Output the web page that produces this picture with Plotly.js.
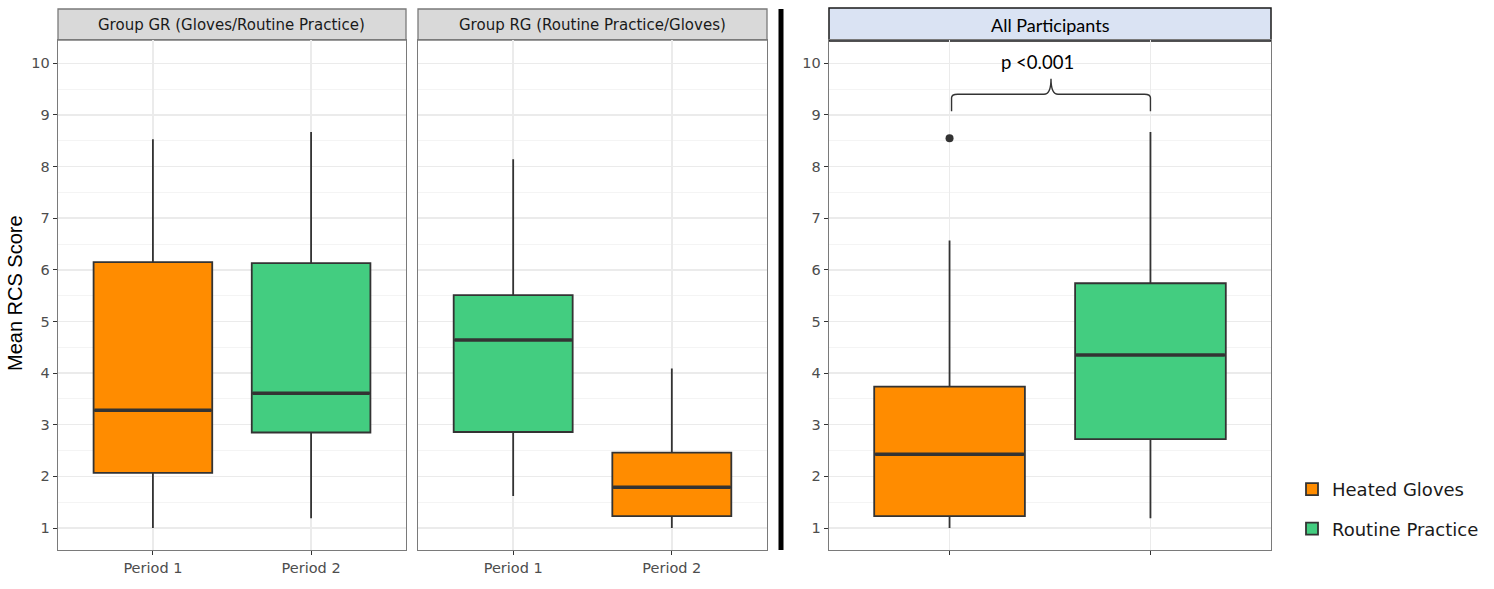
<!DOCTYPE html>
<html><head><meta charset="utf-8">
<script src="https://cdn.plot.ly/plotly-3.0.1.min.js"></script>
<style>html,body{margin:0;padding:0;background:#fff;}#chart{width:1494px;height:589px;}</style>
</head><body><div id="chart"></div>
<script>
// ---- Data ----
const periods = ['Period 1', 'Period 2'];
const overallCats = ['Heated Gloves', 'Routine Practice'];
const seriesNames = ['Heated Gloves', 'Routine Practice'];

// Group GR: Period 1 = Gloves, Period 2 = Routine
const grGloves  = {low: 1.00, q1: 2.07, med: 3.28, q3: 6.15, high: 8.53};
const grRoutine = {low: 1.19, q1: 2.85, med: 3.61, q3: 6.13, high: 8.67};
// Group RG: Period 1 = Routine, Period 2 = Gloves
const rgRoutine = {low: 1.62, q1: 2.86, med: 4.64, q3: 5.51, high: 8.14};
const rgGloves  = {low: 1.00, q1: 1.23, med: 1.79, q3: 2.46, high: 4.09};
// All participants
const allGloves  = {low: 1.00, q1: 1.23, med: 2.43, q3: 3.74, high: 6.57};
const allRoutine = {low: 1.19, q1: 2.72, med: 4.35, q3: 5.74, high: 8.67};
const allGlovesOutliers = [8.55];

const yTicks = [1,2,3,4,5,6,7,8,9,10];
const pLabel = 'p <0.001';

const orange = '#FF8C00', green = '#43CD80', edge = '#333333';
const BOXW = 0.75;
const SANS = 'DejaVu Sans, sans-serif';

function boxTrace(stats, pos, color, xa, ya, name, show) {
  return {
    type: 'box', x: [pos], q1: [stats.q1], median: [stats.med], q3: [stats.q3],
    lowerfence: [stats.low], upperfence: [stats.high],
    xaxis: xa, yaxis: ya, name: name, legendgroup: name, showlegend: show,
    fillcolor: color, line: {color: edge, width: 1.8}, whiskerwidth: 0,
    width: BOXW, boxpoints: false, hoverinfo: 'skip'
  };
}
// thicker median bar (ggplot "fatten") drawn on top through the same axes
function medianTrace(stats, pos, xa, ya) {
  return {
    type: 'scatter', mode: 'lines', x: [pos - BOXW/2 + 0.005, pos + BOXW/2 - 0.005], y: [stats.med, stats.med],
    xaxis: xa, yaxis: ya, line: {color: edge, width: 3.6}, showlegend: false, hoverinfo: 'skip'
  };
}

const traces = [
  boxTrace(grGloves,  0, orange, 'x',  'y',  seriesNames[0], false),
  boxTrace(grRoutine, 1, green,  'x',  'y',  seriesNames[1], false),
  boxTrace(rgRoutine, 0, green,  'x2', 'y2', seriesNames[1], false),
  boxTrace(rgGloves,  1, orange, 'x2', 'y2', seriesNames[0], false),
  boxTrace(allGloves,  0, orange, 'x3', 'y3', seriesNames[0], true),
  boxTrace(allRoutine, 1, green,  'x3', 'y3', seriesNames[1], true),
  medianTrace(grGloves, 0, 'x', 'y'), medianTrace(grRoutine, 1, 'x', 'y'),
  medianTrace(rgRoutine, 0, 'x2', 'y2'), medianTrace(rgGloves, 1, 'x2', 'y2'),
  medianTrace(allGloves, 0, 'x3', 'y3'), medianTrace(allRoutine, 1, 'x3', 'y3'),
  {type: 'scatter', mode: 'markers', x: allGlovesOutliers.map(() => 0), y: allGlovesOutliers,
   xaxis: 'x3', yaxis: 'y3', marker: {color: edge, size: 8}, showlegend: false, hoverinfo: 'skip'}
];

const W = 1494, H = 589;
const px = v => v / W, py = v => 1 - v / H;
const yDom = [py(550), py(40)];
const yRange = [0.575, 10.45];

const tickFont = {family: SANS, size: 14.5, color: '#4d4d4d'};
function yAxis(showLabels, anchor) {
  return {
    domain: yDom, range: yRange, anchor: anchor, tickvals: yTicks,
    showticklabels: showLabels, ticks: showLabels ? 'outside' : '', ticklen: 4, tickcolor: '#333',
    tickfont: tickFont, showgrid: true, gridcolor: '#ebebeb', gridwidth: 1.4,
    minor: {dtick: 0.5, tick0: 0.5, showgrid: true, gridcolor: '#f4f4f4', gridwidth: 1},
    zeroline: false, showline: true, mirror: true, linecolor: '#7a7a7a', linewidth: 1.3, fixedrange: true
  };
}
function xAxis(dom, anchor, showLabels, labels) {
  return {
    domain: dom, anchor: anchor, type: 'linear', tickvals: [0, 1], ticktext: labels,
    range: [-0.6, 1.6], showticklabels: showLabels, ticks: 'outside', ticklen: 4, tickcolor: '#333',
    tickfont: tickFont, showgrid: true, gridcolor: '#ebebeb', gridwidth: 1.4,
    zeroline: false, showline: true, mirror: true, linecolor: '#7a7a7a', linewidth: 1.3, fixedrange: true
  };
}

const d1 = [px(58), px(406)], d2 = [px(418), px(767)], d3 = [px(829), px(1271)];
const stripY = [py(40), py(9)];

const shapes = [
  {type: 'rect', xref: 'paper', yref: 'paper', x0: d1[0], x1: d1[1], y0: stripY[0], y1: stripY[1],
   fillcolor: '#d9d9d9', line: {color: '#7a7a7a', width: 1.3}, layer: 'below'},
  {type: 'rect', xref: 'paper', yref: 'paper', x0: d2[0], x1: d2[1], y0: stripY[0], y1: stripY[1],
   fillcolor: '#d9d9d9', line: {color: '#7a7a7a', width: 1.3}, layer: 'below'},
  {type: 'rect', xref: 'paper', yref: 'paper', x0: d3[0], x1: d3[1], y0: py(41), y1: py(8),
   fillcolor: '#dae3f3', line: {color: '#1a1a1a', width: 1.5}, layer: 'below'},
  {type: 'line', xref: 'paper', yref: 'paper', x0: px(781), x1: px(781), y0: py(550), y1: py(9),
   line: {color: '#000', width: 5}},
  {type: 'path', xref: 'x3', yref: 'y3',
   path: 'M 0.01,9.07 L 0.01,9.33 Q 0.01,9.4 0.04,9.4 L 0.47,9.4 Q 0.505,9.4 0.505,9.7 Q 0.505,9.4 0.54,9.4 L 0.97,9.4 Q 1,9.4 1,9.33 L 1,9.07',
   line: {color: '#333', width: 1.4}}
];

const annotations = [
  {xref: 'paper', yref: 'paper', x: (d1[0]+d1[1])/2, y: (stripY[0]+stripY[1])/2, xanchor: 'center', yanchor: 'middle', showarrow: false,
   text: 'Group GR (Gloves/Routine Practice)', font: {family: SANS, size: 15, color: '#1a1a1a'}},
  {xref: 'paper', yref: 'paper', x: (d2[0]+d2[1])/2, y: (stripY[0]+stripY[1])/2, xanchor: 'center', yanchor: 'middle', showarrow: false,
   text: 'Group RG (Routine Practice/Gloves)', font: {family: SANS, size: 15, color: '#1a1a1a'}},
  {xref: 'paper', yref: 'paper', x: (d3[0]+d3[1])/2, y: (py(41)+py(8))/2, xanchor: 'center', yanchor: 'middle', showarrow: false,
   text: 'All Participants', font: {family: 'Lato, sans-serif', size: 18, color: '#000'}},
  {xref: 'x3', yref: 'y3', x: 0.44, y: 10.02, xanchor: 'center', yanchor: 'middle', showarrow: false, text: pLabel,
   font: {family: 'Lato, sans-serif', size: 18.5, color: '#000'}},
  {xref: 'paper', yref: 'paper', x: px(15), y: py(293), xanchor: 'center', yanchor: 'middle', showarrow: false, textangle: -90,
   text: 'Mean RCS Score', font: {family: 'Liberation Sans, Arial, sans-serif', size: 20, color: '#000'}}
];

const layout = {
  width: W, height: H, margin: {l: 0, r: 0, t: 0, b: 0},
  paper_bgcolor: '#fff', plot_bgcolor: '#fff', boxmode: 'overlay',
  xaxis: xAxis(d1, 'y', true, periods), yaxis: yAxis(true, 'x'),
  xaxis2: xAxis(d2, 'y2', true, periods), yaxis2: yAxis(false, 'x2'),
  xaxis3: xAxis(d3, 'y3', false, overallCats), yaxis3: yAxis(true, 'x3'),
  shapes: shapes, annotations: annotations,
  legend: {x: px(1292), y: py(471), xanchor: 'left', yanchor: 'top', tracegroupgap: 13,
           font: {family: SANS, size: 18, color: '#1a1a1a'}, bgcolor: 'rgba(0,0,0,0)'},
  showlegend: true
};

Plotly.newPlot('chart', traces, layout, {staticPlot: true, displayModeBar: false});
</script>
</body></html>
